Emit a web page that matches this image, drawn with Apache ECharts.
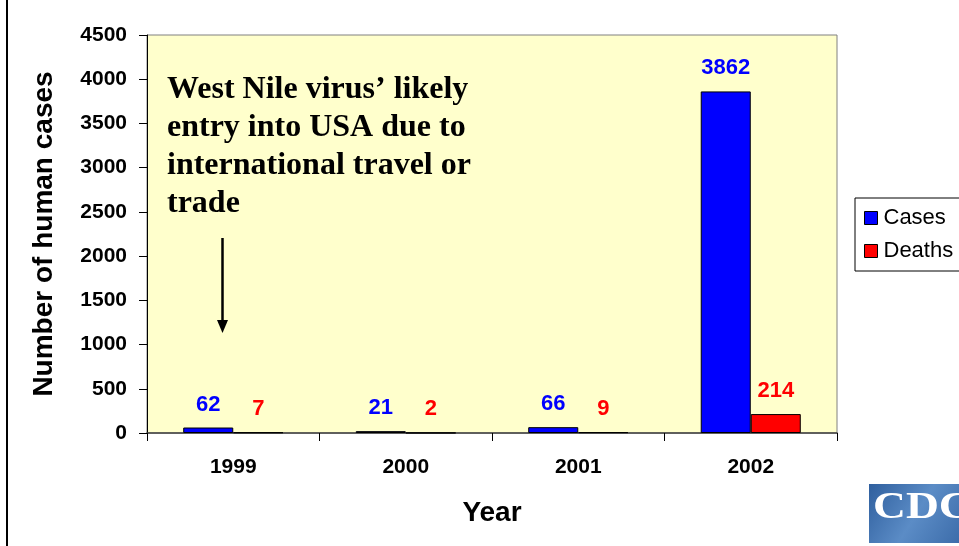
<!DOCTYPE html>
<html>
<head>
<meta charset="utf-8">
<script src="https://cdn.jsdelivr.net/npm/echarts@6/dist/echarts.min.js"></script>
<style>
  html, body { margin: 0; padding: 0; background: #ffffff; }
  #chart { width: 959px; height: 546px; }
</style>
</head>
<body>
<div id="chart"></div>
<script>
// West Nile virus human cases and deaths in the USA, 1999-2002
const years = ['1999', '2000', '2001', '2002'];
const cases = [62, 21, 66, 3862];
const deaths = [7, 2, 9, 214];
const yTicks = [0, 500, 1000, 1500, 2000, 2500, 3000, 3500, 4000, 4500];

const sans = '"Liberation Sans", Arial, sans-serif';
const serif = '"Liberation Serif", "Times New Roman", serif';

const chart = echarts.init(document.getElementById('chart'), null, { renderer: 'canvas' });

chart.setOption({
  animation: false,
  backgroundColor: '#ffffff',
  grid: {
    left: 147, right: 122, top: 35, bottom: 113,
    show: true,
    backgroundColor: '#FFFFCC',
    borderColor: '#808080',
    borderWidth: 1
  },
  legend: {
    orient: 'vertical',
    left: 855, top: 198,
    padding: [9, 8, 9, 9],
    itemGap: 11,
    itemWidth: 13, itemHeight: 13,
    icon: 'rect',
    borderColor: '#000000', borderWidth: 1,
    backgroundColor: '#ffffff',
    textStyle: { fontFamily: sans, fontSize: 22, color: '#000000', padding: [0, 0, 0, 1] },
    itemStyle: { borderColor: '#000000', borderWidth: 1 },
    data: ['Cases', 'Deaths']
  },
  xAxis: {
    type: 'category',
    data: years,
    name: 'Year',
    nameLocation: 'middle',
    nameGap: 66,
    nameTextStyle: { fontFamily: sans, fontSize: 28, fontWeight: 'bold', color: '#000' },
    axisLine: { lineStyle: { color: '#404040', width: 1.5 } },
    axisTick: { show: true, length: 8, lineStyle: { color: '#000' } },
    axisLabel: { fontFamily: sans, fontSize: 21, fontWeight: 'bold', color: '#000', margin: 24 }
  },
  yAxis: {
    type: 'value',
    min: yTicks[0],
    max: yTicks[yTicks.length - 1],
    interval: yTicks[1] - yTicks[0],
    name: 'Number of human cases',
    nameLocation: 'middle',
    nameGap: 89,
    nameTextStyle: { fontFamily: sans, fontSize: 28, fontWeight: 'bold', color: '#000' },
    axisLine: { show: true, lineStyle: { color: '#000', width: 1 } },
    axisTick: { show: true, length: 8, lineStyle: { color: '#000' } },
    splitLine: { show: false },
    axisLabel: {
      fontFamily: sans, fontSize: 21, fontWeight: 'bold', color: '#000', margin: 20,
      formatter: function (v) { return String(v); }
    }
  },
  series: [
    {
      name: 'Cases',
      type: 'bar',
      data: cases,
      barGap: '0%',
      barCategoryGap: '42%',
      itemStyle: { color: '#0000FF', borderColor: '#000', borderWidth: 1 },
      label: {
        show: true, position: 'top', distance: 12,
        fontFamily: sans, fontSize: 22, fontWeight: 'bold', color: '#0000FF'
      }
    },
    {
      name: 'Deaths',
      type: 'bar',
      data: deaths,
      itemStyle: { color: '#FF0000', borderColor: '#000', borderWidth: 1 },
      label: {
        show: true, position: 'top', distance: 12,
        fontFamily: sans, fontSize: 22, fontWeight: 'bold', color: '#FF0000'
      }
    }
  ],
  graphic: [
    // slide frame edge on the left
    { type: 'rect', shape: { x: 6, y: 0, width: 2, height: 546 }, style: { fill: '#000' }, silent: true },
    // annotation text
    {
      type: 'text', left: 167, top: 71, z: 10,
      style: {
        text: 'West Nile virus\u2019 likely\nentry into USA due to\ninternational travel or\ntrade',
        font: 'bold 32px ' + serif, fill: '#000', lineHeight: 38
      }
    },
    // arrow pointing at 1999
    { type: 'line', shape: { x1: 222.5, y1: 238, x2: 222.5, y2: 322 }, style: { stroke: '#000', lineWidth: 2.5 }, z: 10 },
    { type: 'polygon', shape: { points: [[217, 320], [228, 320], [222.5, 333]] }, style: { fill: '#000' }, z: 10 },
    // CDC logo
    {
      type: 'rect', shape: { x: 869, y: 484, width: 95, height: 59 }, z: 10,
      style: {
        fill: new echarts.graphic.LinearGradient(0, 0, 1, 1, [
          { offset: 0, color: '#2f5f9e' },
          { offset: 0.5, color: '#5b8cc6' },
          { offset: 1, color: '#3a6aa8' }
        ])
      }
    },
    {
      type: 'text', x: 873, y: 489, scaleX: 1.2, z: 11,
      style: { text: 'CDC', font: 'bold 38px ' + serif, fill: '#ffffff' }
    }
  ]
});
</script>
</body>
</html>
